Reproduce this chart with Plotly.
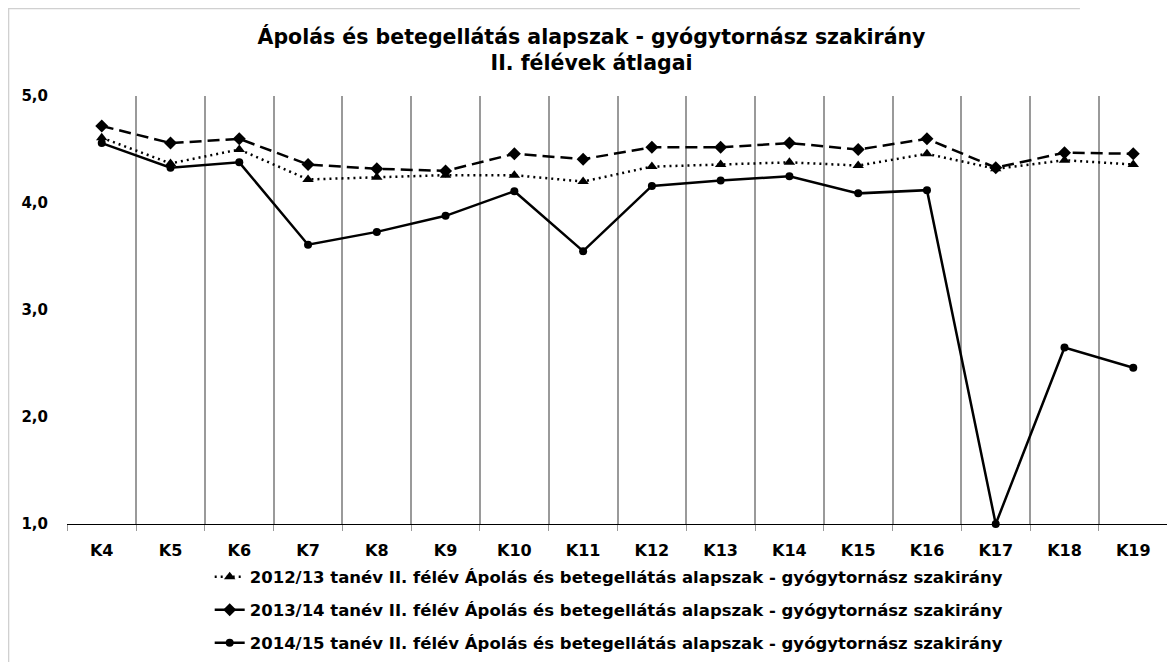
import plotly.graph_objects as go

categories = ["K4", "K5", "K6", "K7", "K8", "K9", "K10", "K11", "K12", "K13", "K14", "K15", "K16", "K17", "K18", "K19"]

series_names = [
    "2012/13 tanév II. félév Ápolás és betegellátás alapszak - gyógytornász szakirány",
    "2013/14 tanév II. félév Ápolás és betegellátás alapszak - gyógytornász szakirány",
    "2014/15 tanév II. félév Ápolás és betegellátás alapszak - gyógytornász szakirány",
]

values_2012_13 = [4.61, 4.37, 4.50, 4.22, 4.24, 4.26, 4.26, 4.20, 4.34, 4.36, 4.38, 4.35, 4.46, 4.32, 4.40, 4.36]
values_2013_14 = [4.72, 4.56, 4.60, 4.36, 4.32, 4.30, 4.46, 4.41, 4.52, 4.52, 4.56, 4.50, 4.60, 4.33, 4.47, 4.46]
values_2014_15 = [4.56, 4.33, 4.38, 3.61, 3.73, 3.88, 4.11, 3.55, 4.16, 4.21, 4.25, 4.09, 4.12, 1.00, 2.65, 2.46]

y_ticks = [1, 2, 3, 4, 5]

FONT = "DejaVu Sans"

W, H = 1167, 654
ML, MR, MT, MB = 59, 7, 88, 138
PW, PH = W - ML - MR, H - MT - MB

fig = go.Figure()

fig.add_trace(go.Scatter(
    x=categories, y=values_2012_13, name=series_names[0], mode="lines+markers",
    line=dict(color="black", width=2.5, dash="2px,4px"),
    marker=dict(symbol="triangle-up", size=10, color="black"),
    legendgroup="a", cliponaxis=False,
))
fig.add_trace(go.Scatter(
    x=categories, y=values_2013_14, name=series_names[1], mode="lines+markers",
    line=dict(color="black", width=2.5, dash="12px,6px"),
    marker=dict(symbol="diamond", size=10, color="black"),
    legendgroup="b", cliponaxis=False,
))
fig.add_trace(go.Scatter(
    x=categories, y=values_2014_15, name=series_names[2], mode="lines+markers",
    line=dict(color="black", width=2.5),
    marker=dict(symbol="circle", size=8, color="black"),
    legendgroup="c", cliponaxis=False,
))

x_left = -ML / PW
y_top = 1 + MT / PH

fig.update_layout(
    width=W, height=H,
    margin=dict(l=ML, r=MR, t=MT, b=MB, autoexpand=False),
    paper_bgcolor="white", plot_bgcolor="white",
    separators=", ",
    font=dict(family=FONT, color="black", size=14, weight="bold"),
    title=dict(
        text="Ápolás és betegellátás alapszak - gyógytornász szakirány<br>II. félévek átlagai",
        x=0.5, xanchor="center", y=1 - 35.5 / H, yanchor="middle",
        font=dict(family=FONT, size=20.5, weight="bold", color="black"),
    ),
    showlegend=True,
    legend=dict(
        orientation="v", x=0.492, xanchor="center", y=-0.083, yanchor="top",
        font=dict(family=FONT, size=16.5, weight="bold"),
        tracegroupgap=8.5, bgcolor="rgba(0,0,0,0)",
    ),
    xaxis=dict(
        type="category", range=[-0.505, 15.505],
        tickson="boundaries", showgrid=True, gridcolor="#9a9a9a", gridwidth=1.5,
        showline=True, linecolor="black", linewidth=1,
        ticks="outside", ticklen=6, tickcolor="#9a9a9a",
        tickfont=dict(family=FONT, size=16, weight="bold"),
        ticklabelstandoff=12,
        zeroline=False,
    ),
    yaxis=dict(
        range=[1, 5], tickvals=y_ticks, tickformat=".1f",
        showgrid=False, zeroline=False, showline=False, ticks="",
        tickfont=dict(family=FONT, size=15, weight="bold"),
        ticklabelstandoff=18,
    ),
    shapes=[
        dict(type="line", xref="paper", yref="paper", x0=x_left + 0.0005, x1=x_left + 0.0005, y0=-MB / PH, y1=y_top,
             line=dict(color="#d0d0d0", width=1.5)),
        dict(type="line", xref="paper", yref="paper", x0=x_left, x1=0.92, y0=y_top - 0.001, y1=y_top - 0.001,
             line=dict(color="#d0d0d0", width=1.5)),
    ],
)

fig.write_html("out.html")
